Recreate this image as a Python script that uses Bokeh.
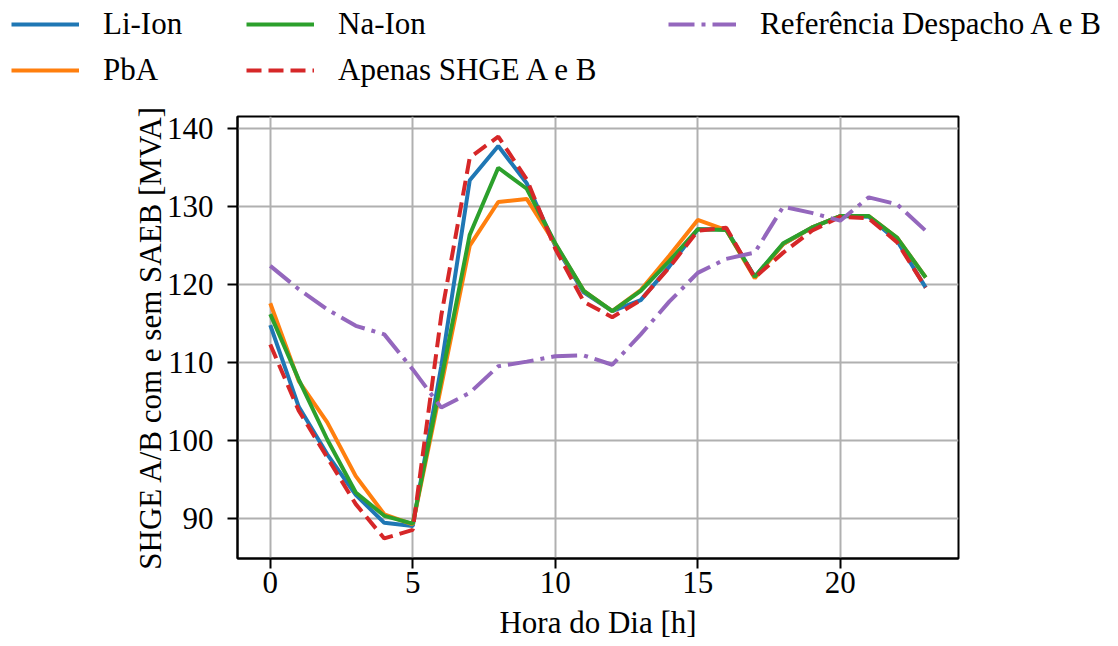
from bokeh.plotting import figure
from bokeh.layouts import column, row
from bokeh.models import Legend, LegendItem, Range1d, FixedTicker, ColumnDataSource
from bokeh.embed import file_html
from bokeh.resources import INLINE

hours = list(range(24))
li_ion = [114.8, 104.3, 98.2, 93.0, 89.4, 89.0, 109.5, 133.4, 137.8, 133.0, 125.0, 119.0,
          116.6, 118.0, 122.3, 127.1, 127.1, 121.0, 125.2, 127.3, 128.8, 128.7, 125.6, 119.6]
pba = [117.6, 107.6, 102.3, 95.4, 90.5, 89.2, 107.0, 125.0, 130.6, 131.0, 125.2, 119.2,
       116.6, 119.3, 123.7, 128.3, 127.0, 120.8, 125.2, 127.3, 128.8, 128.8, 126.0, 120.9]
na_ion = [116.2, 107.8, 100.1, 93.3, 90.3, 89.3, 107.8, 126.4, 135.0, 132.3, 125.3, 119.2,
          116.6, 119.2, 123.0, 127.1, 127.0, 121.0, 125.3, 127.3, 128.8, 128.8, 126.0, 120.9]
apenas = [112.3, 103.8, 97.8, 91.8, 87.4, 88.5, 116.0, 136.3, 139.0, 133.5, 124.6, 117.8,
          115.8, 118.0, 122.2, 126.9, 127.3, 120.9, 124.1, 126.9, 128.7, 128.5, 125.4, 119.6]
referencia = [122.4, 119.4, 116.8, 114.7, 113.6, 109.1, 104.2, 106.1, 109.5, 110.1, 110.8, 110.9,
              109.7, 113.6, 117.8, 121.5, 123.3, 124.1, 130.0, 129.2, 128.2, 131.2, 130.3, 126.9]

names = ["Li-Ion", "PbA", "Na-Ion", "Apenas SHGE A e B", "Referência Despacho A e B"]
colors = ["#1f77b4", "#ff7f0e", "#2ca02c", "#d62728", "#9467bd"]
dashes = ["solid", "solid", "solid", "15 7", "26 7 4 7"]
data = [li_ion, pba, na_ion, apenas, referencia]
x_ticks = [0, 5, 10, 15, 20]
y_ticks = [90, 100, 110, 120, 130, 140]

FONT = "Liberation Serif"
FS = "31px"
W = 1116
LEG_H = 100

allv = [v for s in data for v in s]
ymin, ymax = min(allv), max(allv)
pad = 0.05 * (ymax - ymin)
xpad = 0.05 * (hours[-1] - hours[0])

# ---- main plot ----
p = figure(width=W, height=546, output_backend="svg", toolbar_location=None,
           x_range=Range1d(hours[0] - xpad, hours[-1] + xpad),
           y_range=Range1d(ymin - pad, ymax + pad),
           min_border_left=237, min_border_right=W - 237 - 721,
           min_border_top=116 - LEG_H, min_border_bottom=88)
p.background_fill_color = "white"
p.border_fill_color = "white"
p.outline_line_color = "black"
p.outline_line_width = 2

for name, ys, c, d in zip(names, data, colors, dashes):
    src = ColumnDataSource(dict(x=hours, y=ys))
    p.line("x", "y", source=src, line_color=c, line_width=4, line_dash=d)

p.xaxis.ticker = FixedTicker(ticks=x_ticks)
p.yaxis.ticker = FixedTicker(ticks=y_ticks)
p.xaxis.axis_label = "Hora do Dia [h]"
p.yaxis.axis_label = "SHGE A/B com e sem SAEB [MVA]"
for ax in (p.xaxis, p.yaxis):
    ax.axis_label_text_font = FONT
    ax.axis_label_text_font_size = FS
    ax.axis_label_text_font_style = "normal"
    ax.axis_label_text_color = "black"
    ax.major_label_text_font = FONT
    ax.major_label_text_font_size = FS
    ax.major_label_text_color = "black"
    ax.axis_line_color = "black"
    ax.axis_line_width = 2
    ax.major_tick_line_color = "black"
    ax.major_tick_line_width = 2
    ax.major_tick_in = 0
    ax.major_tick_out = 10
    ax.minor_tick_line_color = None
p.xaxis.major_label_standoff = 3
p.xaxis.axis_label_standoff = 9
p.yaxis.major_label_standoff = 14
p.yaxis.axis_label_standoff = -4

p.xgrid.grid_line_color = "#b0b0b0"
p.ygrid.grid_line_color = "#b0b0b0"
p.xgrid.grid_line_width = 2
p.ygrid.grid_line_width = 2

# ---- legend strip above the plot (its lines lie outside its own view) ----
lf = figure(width=W, height=LEG_H, output_backend="svg", toolbar_location=None,
            x_axis_type=None, y_axis_type=None, min_border=0,
            x_range=Range1d(1000, 1001), y_range=Range1d(1000, 1001))
lf.outline_line_color = None
lf.background_fill_color = "white"
lf.border_fill_color = "white"

leg_renderers = []
for name, ys, c, d in zip(names, data, colors, dashes):
    src = ColumnDataSource(dict(x=hours, y=ys))
    leg_renderers.append(lf.line("x", "y", source=src, line_color=c, line_width=4, line_dash=d))


def make_legend(idx, loc):
    leg = Legend(items=[LegendItem(label=names[i], renderers=[leg_renderers[i]]) for i in idx],
                 location=loc, orientation="vertical",
                 glyph_width=68, glyph_height=36, label_height=36, label_standoff=24,
                 spacing=10, padding=0, margin=0,
                 border_line_color=None, background_fill_alpha=0,
                 label_text_font=FONT, label_text_font_size=FS, label_text_color="black")
    lf.add_layout(leg, "center")


make_legend([0, 1], (11, 12))
make_legend([2, 3], (246, 12))
make_legend([4], (668, 58))

layout = column(row(lf), p, spacing=0)
open("out.html", "w").write(file_html(layout, INLINE))
